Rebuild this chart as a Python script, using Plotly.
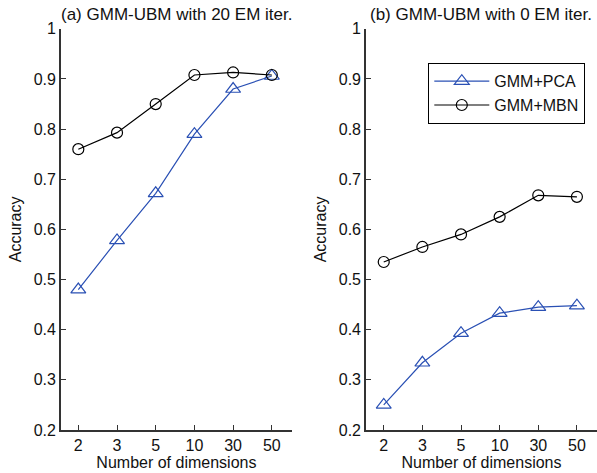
import plotly.graph_objects as go

categories = ["2", "3", "5", "10", "30", "50"]
pca_20 = [0.48, 0.578, 0.672, 0.79, 0.88, 0.906]
mbn_20 = [0.76, 0.793, 0.85, 0.908, 0.913, 0.908]
pca_0 = [0.25, 0.334, 0.393, 0.433, 0.445, 0.448]
mbn_0 = [0.535, 0.565, 0.59, 0.625, 0.668, 0.665]
titles = ["(a) GMM-UBM with 20 EM iter.", "(b) GMM-UBM with 0 EM iter."]
yticks = [0.2, 0.3, 0.4, 0.5, 0.6, 0.7, 0.8, 0.9, 1.0]
ytext = ["0.2", "0.3", "0.4", "0.5", "0.6", "0.7", "0.8", "0.9", "1"]

BLUE = "#2a50b4"
FONT = "Arial"

fig = go.Figure()
xs = list(range(1, 7))

for i, (pca, mbn) in enumerate([(pca_20, mbn_20), (pca_0, mbn_0)]):
    xa = "x" if i == 0 else "x2"
    ya = "y" if i == 0 else "y2"
    fig.add_trace(go.Scatter(x=xs, y=pca, mode="lines+markers", name="GMM+PCA",
                             line=dict(color=BLUE, width=1.2),
                             marker=dict(symbol="triangle-up-open", size=13, color=BLUE, line=dict(width=1.2)),
                             xaxis=xa, yaxis=ya, showlegend=(i == 1)))
    fig.add_trace(go.Scatter(x=xs, y=mbn, mode="lines+markers", name="GMM+MBN",
                             line=dict(color="black", width=1.2),
                             marker=dict(symbol="circle-open", size=11, color="black", line=dict(width=1.2)),
                             xaxis=xa, yaxis=ya, showlegend=(i == 1)))

axis_common = dict(showline=True, linecolor="#333333", linewidth=1.5, ticks="inside",
                   ticklen=5, tickcolor="#333333", showgrid=False, zeroline=False,
                   automargin=False,
                   tickfont=dict(family=FONT, size=16, color="#111111"))

fig.update_layout(
    width=597, height=473, margin=dict(l=0, r=0, t=0, b=0),
    paper_bgcolor="white", plot_bgcolor="white",
    font=dict(family=FONT, size=16, color="#111111"),
    xaxis=dict(domain=[0.102, 0.489], range=[0.55, 6.52], tickvals=xs, ticktext=categories,
               title=dict(text="Number of dimensions", standoff=1, font=dict(size=16)), anchor="y", **axis_common),
    yaxis=dict(domain=[0.091, 0.939], range=[0.2, 1.0], tickvals=yticks, ticktext=ytext,
               title=dict(text="Accuracy", standoff=8, font=dict(size=16)), anchor="x", **axis_common),
    xaxis2=dict(domain=[0.613, 1.0], range=[0.54, 6.52], tickvals=xs, ticktext=categories,
                title=dict(text="Number of dimensions", standoff=1, font=dict(size=16)), anchor="y2", **axis_common),
    yaxis2=dict(domain=[0.091, 0.939], range=[0.2, 1.0], tickvals=yticks, ticktext=ytext,
                title=dict(text="Accuracy", standoff=8, font=dict(size=16)), anchor="x2", **axis_common),
    legend=dict(x=428 / 597, y=1 - 63 / 473, xanchor="left", yanchor="top",
                bordercolor="black", borderwidth=1.3, bgcolor="white", itemwidth=55,
                font=dict(family=FONT, size=16, color="#111111"), tracegroupgap=0),
    showlegend=True,
)

for i, t in enumerate(titles):
    cx = (0.102 + 0.489) / 2 if i == 0 else (0.613 + 1.0) / 2
    fig.add_annotation(text=t, x=cx, y=1 - 14 / 473, xref="paper", yref="paper",
                       showarrow=False, font=dict(family=FONT, size=17, color="#111111"),
                       xanchor="center", yanchor="middle")

fig.write_html("out.html")
